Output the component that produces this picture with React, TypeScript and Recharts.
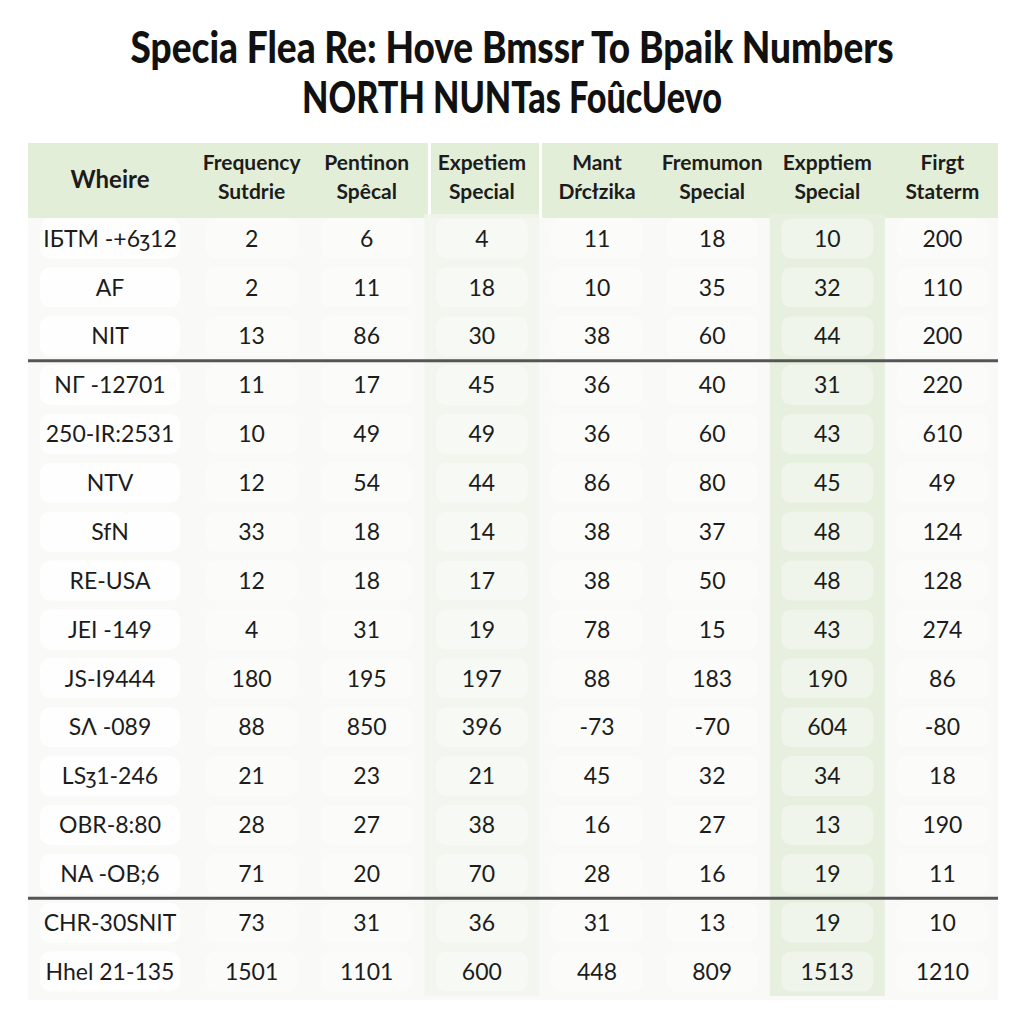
import React from 'react';
import { ScatterChart, Scatter, XAxis, YAxis, ReferenceArea } from 'recharts';

const titleLines = ['Specia Flea Re: Hove Bmssr To Bpaik Numbers', 'NORTH NUNTas FoûcUevo'];

const rowLabels = [
  'IБTM -+6ʒ12', 'AF', 'NIT', 'NΓ -12701', '250-IR:2531', 'NTV', 'SfN', 'RE-USA',
  'JEI -149', 'JS-I9444', 'SΛ -089', 'LSʒ1-246', 'OBR-8:80', 'NA -OB;6', 'CHR-30SNIT', 'Hhel 21-135',
];

const columns = [
  'Frequency Sutdrie', 'Pentinon Spêcal', 'Expetiem Special', 'Mant Dŕcłzika',
  'Fremumon Special', 'Expptiem Special', 'Firgt Staterm',
];

const frequency = [2, 2, 13, 11, 10, 12, 33, 12, 4, 180, 88, 21, 28, 71, 73, 1501];
const pentinon = [6, 11, 86, 17, 49, 54, 18, 18, 31, 195, 850, 23, 27, 20, 31, 1101];
const expetiem = [4, 18, 30, 45, 49, 44, 14, 17, 19, 197, 396, 21, 38, 70, 36, 600];
const mant = [11, 10, 38, 36, 36, 86, 38, 38, 78, 88, -73, 45, 16, 28, 31, 448];
const fremumon = [18, 35, 60, 40, 60, 80, 37, 50, 15, 183, -70, 32, 27, 16, 13, 809];
const expptiem = [10, 32, 44, 31, 43, 45, 48, 48, 43, 190, 604, 34, 13, 19, 19, 1513];
const firgt = [200, 110, 200, 220, 610, 49, 124, 128, 274, 86, -80, 18, 190, 11, 10, 1210];

const columnValues = [frequency, pentinon, expetiem, mant, fremumon, expptiem, firgt];

const cells = columns.flatMap((col, c) =>
  rowLabels.map((row, r) => ({ col, row, value: columnValues[c][r] }))
);

const FONT = 'Lato, "Open Sans", sans-serif';
const INK = '#1c1c1c';
const HEADER_BG = '#e3eed9';

const HeaderTick = (props: any) => {
  const { x, payload } = props;
  const words = String(payload.value).split(' ');
  return (
    <g>
      <text x={x} y={170} textAnchor="middle" fontFamily={FONT} fontWeight={700} fontSize={21} fill={INK}>
        {words[0]}
      </text>
      <text x={x} y={199} textAnchor="middle" fontFamily={FONT} fontWeight={700} fontSize={21} fill={INK}>
        {words[1]}
      </text>
    </g>
  );
};

const RowTick = (props: any) => {
  const { y, payload } = props;
  return (
    <g>
      <rect x={40} y={y - 20} width={140} height={40} rx={10} fill="#ffffff" fillOpacity={0.8} />
      <text x={110} y={y} dy="0.36em" textAnchor="middle" fontFamily={FONT} fontSize={23} fill={INK}>
        {payload.value}
      </text>
    </g>
  );
};

const CellShape = (props: any) => {
  const { cx, cy, payload } = props;
  return (
    <g>
      <rect x={cx - 46} y={cy - 20} width={92} height={40} rx={10} fill="#ffffff" fillOpacity={0.35} />
      <text x={cx} y={cy} dy="0.36em" textAnchor="middle" fontFamily={FONT} fontSize={23} fill={INK}>
        {payload.value}
      </text>
    </g>
  );
};

const SeparatorShape = (props: any) => {
  const { x, y, width } = props;
  return <line x1={28} x2={x + width - 2} y1={y} y2={y} stroke="#555555" strokeWidth={3} />;
};

export default function App() {
  return (
    <div style={{ position: 'absolute', left: 0, top: 0, width: 1024, height: 1024, background: '#ffffff' }}>
      <svg width={1024} height={1024} style={{ position: 'absolute', left: 0, top: 0 }}>
        <text x={512} y={63} textAnchor="middle" fontFamily={FONT} fontWeight={900} fontSize={43}
          textLength={763} lengthAdjust="spacingAndGlyphs" fill="#111">
          {titleLines[0]}
        </text>
        <text x={512} y={113} textAnchor="middle" fontFamily={FONT} fontWeight={900} fontSize={43}
          textLength={420} lengthAdjust="spacingAndGlyphs" fill="#111">
          {titleLines[1]}
        </text>
        <rect x={28} y={218} width={970} height={782} fill="#f9faf8" />
        <rect x={28} y={143} width={400} height={75} fill={HEADER_BG} />
        <rect x={431} y={143} width={108} height={75} fill={HEADER_BG} />
        <rect x={542} y={143} width={456} height={75} fill={HEADER_BG} />
        <text x={110} y={188} textAnchor="middle" fontFamily={FONT} fontWeight={700} fontSize={24} fill={INK}>
          Wheire
        </text>
      </svg>
      <div style={{ position: 'absolute', left: 0, top: 0 }}>
        <ScatterChart width={1024} height={1024} margin={{ top: 144, right: 24, bottom: 28, left: 28 }}>
          <XAxis
            dataKey="col"
            type="category"
            allowDuplicatedCategory={false}
            orientation="top"
            height={70}
            axisLine={false}
            tickLine={false}
            interval={0}
            tick={<HeaderTick />}
          />
          <YAxis
            dataKey="row"
            type="category"
            allowDuplicatedCategory={false}
            reversed
            width={166}
            axisLine={false}
            tickLine={false}
            interval={0}
            tick={<RowTick />}
          />
          <ReferenceArea x1={columns[2]} x2={columns[2]} fill="#f0f5eb" fillOpacity={0.8} stroke="none" />
          <ReferenceArea x1={columns[5]} x2={columns[5]} fill="#e7f0df" fillOpacity={1} stroke="none" />
          <Scatter data={cells} shape={CellShape} isAnimationActive={false} />
          <ReferenceArea y1={rowLabels[3]} y2={rowLabels[3]} shape={SeparatorShape} ifOverflow="visible" />
          <ReferenceArea y1={rowLabels[14]} y2={rowLabels[14]} shape={SeparatorShape} ifOverflow="visible" />
        </ScatterChart>
      </div>
    </div>
  );
}
